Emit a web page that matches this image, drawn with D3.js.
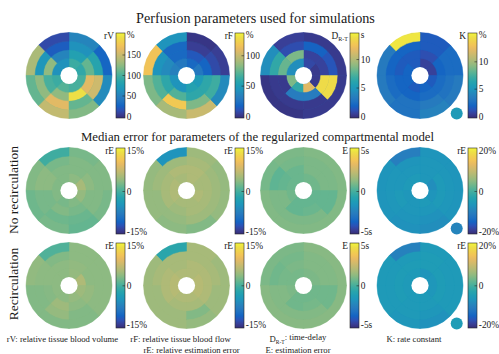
<!DOCTYPE html>
<html>
<head>
<meta charset="utf-8">
<script src="https://cdn.jsdelivr.net/npm/d3@7"></script>
<style>
  html, body { margin: 0; padding: 0; background: #ffffff; }
  svg { display: block; font-family: "Liberation Serif", "Times New Roman", Times, serif; }
</style>
</head>
<body>
<svg id="chart" width="499" height="354"></svg>
<script>
// ---- Segment values: 4 rings (inner -> outer) x 8 sectors (45 deg each, starting east, counter-clockwise)

// Ground-truth perfusion parameters
const rVTrue = [
  [90, 95, 65, 65, 95, 105, 100, 100],
  [110, 80, 55, 125, 100, 125, 190, 160],
  [85, 65, 25, 70, 125, 160, 110, 150],
  [30, 55, 15, 135, 110, 145, 120, 60]
];
const rFTrue = [
  [30, 22, 30, 35, 45, 45, 55, 50],
  [20, 15, 22, 40, 60, 70, 60, 60],
  [10, 6, 22, 45, 70, 118, 80, 65],
  [6, 3, 45, 115, 80, 90, 100, 40]
];
const dTrue = [
  [0.5, 1.0, 4.5, 4.5, 8.5, 6.5, 11.5, 0.5],
  [0.8, 0.8, 8.5, 8.0, 0.5, 3.5, 3.5, 13.5],
  [1.5, 2.0, 1.2, 6.5, 0.5, 0.5, 0.5, 13.5],
  [0.5, 0.5, 0.7, 4.5, 0.3, 0.3, 0.5, 0.5]
];
const kTrue = [
  [0.8, 0.8, 1.8, 2.2, 2.2, 1.8, 2.2, 1.8],
  [2.2, 1.3, 1.8, 1.8, 2.2, 2.2, 2.6, 2.6],
  [2.6, 1.8, 2.2, 2.2, 2.6, 3.0, 3.5, 3.0],
  [2.6, 1.8, 14.5, 3.5, 3.5, 3.0, 4.0, 3.5]
];

// Median estimation error, no recirculation
const rVErrNoRec = [
  [5.0, 3.5, 3.0, 3.0, 3.0, 2.5, 3.0, 4.0],
  [3.5, 3.0, 3.0, 3.5, 2.5, 3.0, 2.5, 3.0],
  [3.0, 3.0, 2.5, 3.5, 2.5, 2.0, 1.8, 3.0],
  [3.0, 2.5, -0.5, 3.0, 2.0, 2.5, 1.5, 2.5]
];
const rFErrNoRec = [
  [5.0, 5.5, 5.0, 5.5, 5.5, 5.0, 5.0, 5.5],
  [5.0, 5.5, 5.5, 5.0, 5.0, 4.5, 5.0, 5.0],
  [4.5, 5.0, 4.5, 4.5, 4.0, 4.0, 4.5, 4.5],
  [4.0, 4.5, -5.0, 4.0, 4.0, 3.5, 3.0, 4.0]
];
const dErrNoRec = [
  [0.7, 0.7, 0.6, 0.6, 0.7, 0.5, 0.5, 0.5],
  [0.9, 0.9, 0.6, 0.5, 0.9, 0.5, 0.6, 0.5],
  [0.9, 0.9, 0.8, 0.4, 0.9, 0.9, 0.9, 0.5],
  [1.0, 1.0, 0.9, 0.8, 1.0, 1.0, 1.0, 1.0]
];
const kErrNoRec = [
  [-7.5, -6.0, -5.5, -5.5, -6.0, -6.0, -5.5, -6.5],
  [-5.5, -6.0, -6.0, -6.0, -5.5, -6.0, -6.0, -5.5],
  [-6.0, -6.0, -6.5, -6.0, -6.0, -6.5, -7.0, -6.0],
  [-6.5, -6.5, -10.0, -6.5, -6.5, -7.0, -7.5, -6.5]
];

// Median estimation error, with recirculation
const rVErrRec = [
  [5.5, 4.0, 3.5, 3.5, 3.5, 3.5, 4.0, 4.5],
  [3.5, 3.8, 3.5, 3.5, 3.2, 4.5, 3.5, 4.0],
  [3.5, 3.5, 3.0, 3.5, 3.0, 4.0, 3.0, 3.5],
  [3.5, 3.5, 0.5, 3.8, 3.0, 3.0, 3.0, 3.5]
];
const rFErrRec = [
  [6.0, 5.5, 5.5, 6.0, 6.0, 5.5, 5.5, 6.0],
  [5.5, 5.5, 5.0, 5.5, 5.5, 5.0, 5.0, 5.5],
  [5.0, 5.0, 5.0, 5.0, 4.5, 4.5, 3.0, 4.5],
  [4.5, 5.0, -2.0, 4.5, 4.5, 4.5, 4.0, 4.5]
];
const dErrRec = [
  [0.9, 0.9, 0.8, 0.8, 0.9, 0.7, 0.7, 0.7],
  [1.0, 1.0, 0.9, 0.8, 1.0, 0.7, 0.8, 0.7],
  [1.0, 1.0, 0.8, 0.7, 1.0, 1.0, 1.0, 0.7],
  [1.1, 1.1, 0.9, 0.9, 1.1, 1.1, 1.1, 1.1]
];
const kErrRec = [
  [-6.0, -6.5, -5.5, -5.5, -5.5, -5.5, -5.5, -6.0],
  [-5.0, -5.0, -5.0, -5.0, -5.0, -5.5, -5.5, -5.0],
  [-5.5, -5.0, -5.5, -5.5, -5.5, -5.5, -6.0, -5.5],
  [-5.5, -5.5, -9.5, -5.5, -5.5, -6.0, -7.0, -5.5]
];

// Value of the separate round region beside the K maps (one per row)
const kDotValues = [5.5, -9.0, -5.0];

// Colour-bar limits, ticks and tick labels
const rVTicks = [0, 50, 100, 150, 200], rVTickLabels = ["0", "50", "100", "150", "%"];
const rFTicks = [0, 50, 100, 135], rFTickLabels = ["0", "50", "100", "%"];
const dTicks = [0, 5, 10, 14.4], dTickLabels = ["0", "5", "10", "s"];
const kTicks = [0, 5, 10, 15], kTickLabels = ["0", "5", "10", "%"];
const err15Ticks = [-15, 0, 15], err15Labels = ["-15%", "0", "15%"];
const err5sTicks = [-5, 0, 5], err5sLabels = ["-5s", "0", "5s"];
const err20Ticks = [-20, 0, 20], err20Labels = ["-20%", "0", "20%"];

const titles = ["Perfusion parameters used for simulations",
                "Median error for parameters of the regularized compartmental model"];
const rowLabels = ["No recirculation", "Recirculation"];

// ---- Parula colour map (every third entry of the 64-step table), slightly muted
const parulaRaw = [
  [0.2081,0.1663,0.5292],[0.2081,0.2386,0.6771],[0.1253,0.3242,0.8303],[0.0060,0.4086,0.8828],
  [0.0498,0.4586,0.8641],[0.0779,0.5040,0.8384],[0.0641,0.5570,0.8240],[0.0265,0.6137,0.8135],
  [0.0228,0.6535,0.7768],[0.0590,0.6838,0.7254],[0.1453,0.7098,0.6646],[0.2586,0.7317,0.5954],
  [0.3953,0.7459,0.5244],[0.5300,0.7491,0.4661],[0.6473,0.7456,0.4188],[0.7525,0.7384,0.3768],
  [0.8507,0.7299,0.3360],[0.9450,0.7261,0.2886],[0.9990,0.7653,0.2164],[0.9789,0.8271,0.1633],
  [0.9589,0.8949,0.1132],[0.9763,0.9831,0.0538]
];
const mute = 0.22;
const parula = parulaRaw.map(([r, g, b]) => {
  const l = 0.3 * r + 0.59 * g + 0.11 * b;
  const m = v => 255 * (v + mute * (l - v));
  return d3.rgb(m(r), m(g), m(b)).formatHex();
});
const interpolateParula = d3.piecewise(d3.interpolateRgb, parula);

// ---- Layout
const svg = d3.select("#chart");
const R = 43;                       // outer radius of every polar map
const colX = [69, 186.5, 303.5, 420];
const barX = [116, 235, 350, 468];
const rowY = [75.5, 190.5, 285.5];
const barTop = [33, 148, 243];
const barBottom = [118, 234, 328];
const barW = 9;
const labelInset = [[2, 1], [2.8, 2.8], [3.2, 2.8]];   // [bottom, top] inset of the end labels

const panels = [
  { row: 0, col: 0, values: rVTrue, domain: [0, 200], ticks: rVTicks, labels: rVTickLabels, name: "rV" },
  { row: 0, col: 1, values: rFTrue, domain: [0, 135], ticks: rFTicks, labels: rFTickLabels, name: "rF" },
  { row: 0, col: 2, values: dTrue, domain: [0, 14.4], ticks: dTicks, labels: dTickLabels, name: "D", sub: "R-T" },
  { row: 0, col: 3, values: kTrue, domain: [0, 15], ticks: kTicks, labels: kTickLabels, name: "K", dot: kDotValues[0] },
  { row: 1, col: 0, values: rVErrNoRec, domain: [-15, 15], ticks: err15Ticks, labels: err15Labels, name: "rE" },
  { row: 1, col: 1, values: rFErrNoRec, domain: [-15, 15], ticks: err15Ticks, labels: err15Labels, name: "rE" },
  { row: 1, col: 2, values: dErrNoRec, domain: [-5, 5], ticks: err5sTicks, labels: err5sLabels, name: "E" },
  { row: 1, col: 3, values: kErrNoRec, domain: [-20, 20], ticks: err20Ticks, labels: err20Labels, name: "rE", dot: kDotValues[1] },
  { row: 2, col: 0, values: rVErrRec, domain: [-15, 15], ticks: err15Ticks, labels: err15Labels, name: "rE" },
  { row: 2, col: 1, values: rFErrRec, domain: [-15, 15], ticks: err15Ticks, labels: err15Labels, name: "rE" },
  { row: 2, col: 2, values: dErrRec, domain: [-5, 5], ticks: err5sTicks, labels: err5sLabels, name: "E" },
  { row: 2, col: 3, values: kErrRec, domain: [-20, 20], ticks: err20Ticks, labels: err20Labels, name: "rE", dot: kDotValues[2] }
];

const nRings = rVTrue.length, nSectors = rVTrue[0].length;
const radius = d3.scaleLinear().domain([0, nRings]).range([0.2 * R, R]);
// sector index -> d3 arc angle (0 = north, clockwise); sector 0 starts at east, runs counter-clockwise
const angle = d3.scaleLinear().domain([0, nSectors]).range([Math.PI / 2, Math.PI / 2 - 2 * Math.PI]);
const arc = d3.arc();

// shared vertical gradient for the colour bars
const defs = svg.append("defs");
const grad = defs.append("linearGradient").attr("id", "parulaGrad")
  .attr("x1", 0).attr("y1", 1).attr("x2", 0).attr("y2", 0);
parula.forEach((c, i) => grad.append("stop").attr("offset", i / (parula.length - 1)).attr("stop-color", c));

panels.forEach(p => {
  const color = d3.scaleSequential(interpolateParula).domain(p.domain).clamp(true);
  const g = svg.append("g").attr("transform", `translate(${colX[p.col]},${rowY[p.row]})`);

  const cells = [];
  p.values.forEach((ring, ri) => ring.forEach((v, si) => cells.push({ ri, si, v })));

  // solid backing disc so that no light seams show between neighbouring segments
  const meanColor = color(d3.mean(cells, d => d.v));
  g.append("circle").attr("r", R - 0.3).attr("fill", meanColor);

  g.selectAll("path.seg").data(cells).join("path")
    .attr("class", "seg")
    .attr("d", d => arc({
      innerRadius: radius(d.ri),
      outerRadius: radius(d.ri + 1),
      startAngle: angle(d.si + 1),
      endAngle: angle(d.si)
    }))
    .attr("fill", d => color(d.v))
    .attr("stroke", d => color(d.v))
    .attr("stroke-width", 0.5)
    .attr("stroke-linejoin", "round");

  g.append("circle").attr("r", radius(0)).attr("fill", "#ffffff");

  if (p.dot !== undefined) {
    g.append("circle")
      .attr("cx", 36.7).attr("cy", 38).attr("r", 6)
      .attr("fill", color(p.dot));
  }

  // colour bar
  const top = barTop[p.row], bottom = barBottom[p.row], bx = barX[p.col];
  const [insB, insT] = labelInset[p.row];
  const yScale = d3.scaleLinear().domain(p.domain).range([bottom - insB, top + insT]);
  svg.append("rect")
    .attr("x", bx).attr("y", top).attr("width", barW).attr("height", bottom - top)
    .attr("fill", "url(#parulaGrad)")
    .attr("stroke", "#262626").attr("stroke-width", 0.6);

  const axis = d3.axisRight(yScale)
    .tickValues(p.ticks)
    .tickFormat((d, i) => p.labels[i])
    .tickSizeInner(-2.5).tickSizeOuter(0).tickPadding(1.8);
  const ax = svg.append("g").attr("transform", `translate(${bx + barW},0)`).call(axis);
  ax.select(".domain").remove();
  ax.selectAll(".tick line")
    .attr("stroke", "#262626").attr("stroke-width", 0.6)
    .attr("display", (d, i) => (i === 0 || i === p.ticks.length - 1) ? "none" : null);
  ax.selectAll(".tick text")
    .attr("fill", "#1a1a1a")
    .style("font-family", "'Liberation Serif', 'Times New Roman', serif")
    .style("font-size", "9.4px");

  const lab = svg.append("text")
    .attr("x", bx - 2).attr("y", top + 2.5).attr("dy", "0.32em")
    .attr("text-anchor", "end")
    .attr("fill", "#1a1a1a")
    .style("font-size", "9.4px")
    .text(p.name);
  if (p.sub) {
    lab.append("tspan").attr("dy", "0.35em").style("font-size", "6px").text(p.sub);
  }
});

// titles
svg.append("text").attr("x", 255.5).attr("y", 23).attr("text-anchor", "middle")
  .attr("fill", "#1a1a1a").style("font-size", "14.2px").text(titles[0]);
svg.append("text").attr("x", 257.5).attr("y", 140.5).attr("text-anchor", "middle")
  .attr("fill", "#1a1a1a").style("font-size", "12.8px").text(titles[1]);

// row labels
[[rowLabels[0], 190], [rowLabels[1], 284]].forEach(([t, y]) => {
  svg.append("text")
    .attr("transform", `translate(18,${y}) rotate(-90)`)
    .attr("text-anchor", "middle")
    .attr("fill", "#1a1a1a")
    .style("font-size", "13.5px")
    .text(t);
});

// captions
const capSize = "8.7px";
function caption(x, y, txt) {
  return svg.append("text").attr("x", x).attr("y", y).attr("text-anchor", "middle")
    .attr("fill", "#1a1a1a").style("font-size", capSize).text(txt);
}
caption(62.5, 342, "rV: relative tissue blood volume");
caption(180.5, 342, "rF: relative tissue blood flow");
caption(191.5, 352.5, "rE: relative estimation error");
const dCap = caption(298, 342, "D");
dCap.append("tspan").attr("dy", "0.3em").style("font-size", "5.5px").text("R-T");
dCap.append("tspan").attr("dy", "-0.45em").text(": time-delay");
caption(298, 352.5, "E: estimation error");
caption(414, 342, "K: rate constant");
</script>
</body>
</html>
